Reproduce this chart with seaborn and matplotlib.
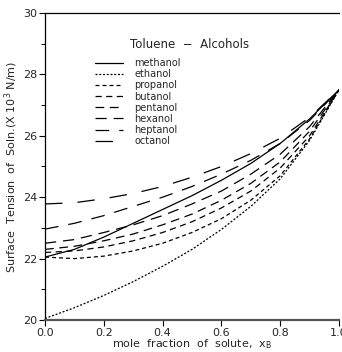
import matplotlib
matplotlib.use("Agg")
import matplotlib.pyplot as plt
import seaborn as sns
import pandas as pd

# mole fraction of solute
x_frac = [0.0, 0.1, 0.2, 0.3, 0.4, 0.5, 0.6, 0.7, 0.8, 0.9, 1.0]

alcohols = ["methanol", "ethanol", "propanol", "butanol",
            "pentanol", "hexanol", "heptanol", "octanol"]

# surface tension of solution (x 10^3 N/m)
methanol = [22.05, 22.30, 22.70, 23.15, 23.60, 24.05, 24.55, 25.10, 25.75, 26.55, 27.50]
ethanol = [20.05, 20.40, 20.80, 21.25, 21.75, 22.30, 22.95, 23.70, 24.60, 25.85, 27.50]
propanol = [22.05, 22.00, 22.08, 22.25, 22.50, 22.85, 23.30, 23.90, 24.70, 25.90, 27.50]
butanol = [22.20, 22.25, 22.38, 22.58, 22.85, 23.20, 23.65, 24.20, 24.95, 26.00, 27.50]
pentanol = [22.30, 22.40, 22.58, 22.80, 23.10, 23.45, 23.90, 24.45, 25.15, 26.15, 27.50]
hexanol = [22.50, 22.62, 22.85, 23.10, 23.40, 23.78, 24.20, 24.75, 25.40, 26.30, 27.50]
heptanol = [22.96, 23.15, 23.40, 23.70, 24.00, 24.35, 24.75, 25.20, 25.75, 26.50, 27.50]
octanol = [23.78, 23.82, 23.95, 24.12, 24.35, 24.65, 25.00, 25.42, 25.92, 26.60, 27.50]

series = [methanol, ethanol, propanol, butanol, pentanol, hexanol, heptanol, octanol]

df = pd.DataFrame({
    "x": x_frac * len(alcohols),
    "sigma": [v for s in series for v in s],
    "alcohol": [a for a in alcohols for _ in x_frac],
})

dash_styles = {
    "methanol": "",
    "ethanol": (1.6, 1.4),
    "propanol": (3.2, 2.4),
    "butanol": (5, 3.5),
    "pentanol": (7, 4.5),
    "hexanol": (9, 5.5),
    "heptanol": (11, 8),
    "octanol": (14, 12),
}

sns.set_theme(style="ticks")
plt.rcParams["font.family"] = ["DejaVu Sans"]

fig = plt.figure(figsize=(3.42, 3.52), dpi=100)
ax = fig.add_axes([45 / 342, 32 / 352, 294 / 342, 307 / 352])

sns.lineplot(data=df, x="x", y="sigma", hue="alcohol", style="alcohol",
             hue_order=alcohols, style_order=alcohols,
             palette=["black"] * len(alcohols), dashes=dash_styles,
             linewidth=0.9, ax=ax, legend=True)

ax.set_xlim(0, 1.0)
ax.set_ylim(20, 30)
ax.set_xticks([0.0, 0.2, 0.4, 0.6, 0.8, 1.0])
ax.set_xticklabels(["0.0", "0.2", "0.4", "0.6", "0.8", "1.0"])
ax.set_yticks([20, 22, 24, 26, 28, 30])
ax.set_yticks([21, 23, 25, 27, 29], minor=True)
ax.tick_params(axis="both", which="major", direction="out", length=4,
               width=0.8, labelsize=8, pad=1.5, color="black")
ax.tick_params(axis="y", which="minor", direction="out", length=3,
               width=0.7, color="black")

ax.spines["right"].set_visible(False)
ax.spines["left"].set_linewidth(0.9)
ax.spines["left"].set_color("black")
ax.spines["top"].set_linewidth(0.9)
ax.spines["top"].set_color("black")
ax.spines["bottom"].set_linewidth(1.6)
ax.spines["bottom"].set_color("#555555")

ax.set_xlabel("mole  fraction  of  solute,  x$_\\mathregular{B}$", fontsize=8,
              labelpad=0)
ax.set_ylabel("Surface  Tension  of  Soln.(X 10$^\\mathregular{3}$ N/m)",
              fontsize=8, labelpad=2)

leg = ax.legend(loc="upper left", bbox_to_anchor=(0.156, 0.866), frameon=False,
                fontsize=7, handlelength=2.9, handletextpad=1.2,
                labelspacing=0.12, borderaxespad=0)
ax.text(0.493, 0.899, "Toluene  \u2212  Alcohols", transform=ax.transAxes,
        fontsize=8.5, ha="center", va="center")

fig.savefig("out.png", dpi=100)
